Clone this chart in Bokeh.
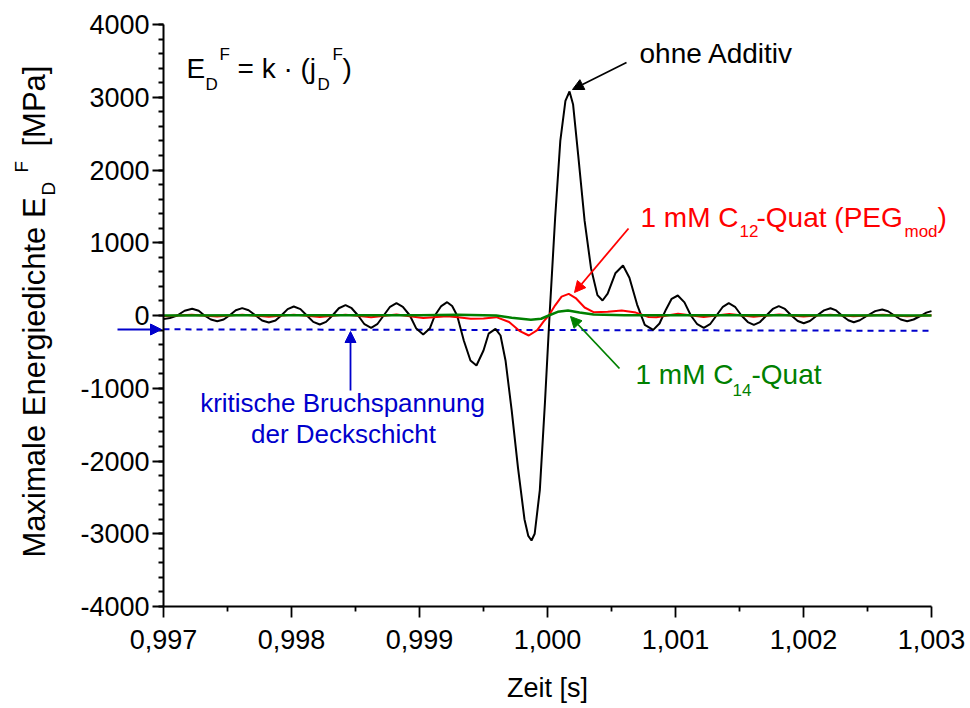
import math
from bokeh.plotting import figure
from bokeh.models import Label, Arrow, NormalHead, Range1d, FixedTicker, CustomJSTickFormatter, LinearAxis
from bokeh.embed import file_html
from bokeh.resources import INLINE

# ---------------- data ----------------
zeit_ohne = [0.997000, 0.997050, 0.997107, 0.997165, 0.997224, 0.997275, 0.997320, 0.997370,
             0.997420, 0.997470, 0.997515, 0.997565, 0.997615, 0.997665, 0.997720, 0.997770,
             0.997823, 0.997875, 0.997920, 0.997970, 0.998018, 0.998070, 0.998120, 0.998170,
             0.998221, 0.998270, 0.998320, 0.998370, 0.998422, 0.998470, 0.998520, 0.998570,
             0.998622, 0.998670, 0.998720, 0.998770, 0.998820, 0.998870, 0.998925, 0.998975,
             0.999029, 0.999080, 0.999120, 0.999170, 0.999216, 0.999255, 0.999294, 0.999346,
             0.999398, 0.999445, 0.999500, 0.999540, 0.999594, 0.999633, 0.999672, 0.999720,
             0.999770, 0.999820, 0.999850, 0.999875, 0.999900, 0.999940, 0.999980, 1.000016,
             1.000060, 1.000100, 1.000140, 1.000172, 1.000200, 1.000240, 1.000290, 1.000340,
             1.000390, 1.000430, 1.000470, 1.000530, 1.000590, 1.000640, 1.000700, 1.000760,
             1.000826, 1.000875, 1.000925, 1.000970, 1.001018, 1.001070, 1.001120, 1.001170,
             1.001221, 1.001270, 1.001320, 1.001370, 1.001416, 1.001465, 1.001515, 1.001565,
             1.001612, 1.001660, 1.001710, 1.001760, 1.001807, 1.001855, 1.001905, 1.001955,
             1.002002, 1.002050, 1.002105, 1.002160, 1.002211, 1.002255, 1.002300, 1.002350,
             1.002393, 1.002440, 1.002500, 1.002560, 1.002615, 1.002660, 1.002710, 1.002760,
             1.002810, 1.002860, 1.002920, 1.002960, 1.003000]
e_ohne = [-50, -35, 0, 65, 92, 65, 0, -55,
          -78, -55, 0, 72, 101, 72, 0, -68,
          -96, -68, 0, 88, 124, 88, 0, -88,
          -124, -88, 0, 100, 142, 100, 0, -120,
          -169, -120, 0, 120, 169, 120, 0, -180,
          -261, -180, 0, 130, 183, 130, 0, -344,
          -618, -687, -481, -250, -183, -275, -618, -1300,
          -2100, -2800, -3030, -3093, -3000, -2400, -1200, 0,
          1350, 2400, 2950, 3079, 2900, 2200, 1300, 650,
          280, 206, 300, 580, 687, 520, 150, -130,
          -197, -110, 80, 230, 275, 180, 0, -120,
          -169, -120, 0, 120, 169, 120, 0, -90,
          -128, -90, 0, 90, 128, 90, 0, -75,
          -106, -75, 0, 70, 100, 70, 0, -65,
          -92, -65, 0, 60, 83, 58, 0, -55,
          -78, -55, 0, 40, 60]

zeit_c12 = [0.997000, 0.997220, 0.997420, 0.997615, 0.997823, 0.998018, 0.998221, 0.998422,
            0.998622, 0.998820, 0.999029, 0.999216, 0.999300, 0.999400, 0.999500, 0.999600,
            0.999700, 0.999780, 0.999854, 0.999920, 0.999970, 1.000010, 1.000060, 1.000110,
            1.000166, 1.000220, 1.000290, 1.000360, 1.000470, 1.000580, 1.000690, 1.000790,
            1.000850, 1.001020, 1.001220, 1.001420, 1.001610, 1.001810, 1.002000, 1.002210,
            1.002390, 1.002620, 1.002810, 1.003000]
e_c12 = [-10, 10, -15, 12, -18, 12, -20, 12,
         -25, 15, -35, -10, -25, -46, -40, -23,
         -90, -210, -275, -200, -80, 0, 140, 260,
         298, 240, 110, 46, 50, 69, 40, -20,
         -25, 25, -20, 20, -18, 15, -14, 12,
         -12, 10, -10, 5]

zeit_c14 = [0.997000, 0.999000, 0.999300, 0.999600, 0.999720, 0.999870, 0.999950, 1.000010,
            1.000080, 1.000160, 1.000250, 1.000360, 1.000600, 1.003000]
e_c14 = [0, 5, 10, 0, -30, -60, -45, 0, 50, 69, 40, 14, 5, 0]

zeit_krit = [0.997, 1.003]
e_krit = [-190, -210]

x_ticks = [0.997, 0.998, 0.999, 1.000, 1.001, 1.002, 1.003]
x_minor = [0.9975, 0.9985, 0.9995, 1.0005, 1.0015, 1.0025]
y_ticks = [-4000, -3000, -2000, -1000, 0, 1000, 2000, 3000, 4000]
y_minor = list(range(-4000, 4001, 200))

FONT = "Liberation Sans"
BLACK = "#000000"
RED = "#FF0000"
GREEN = "#008000"
BLUE = "#0000CC"

W, H = 970, 708
# plot area in page pixels: x 163..931 (0.997..1.003), y 24..606 (4000..-4000)
def tx(px):
    return 0.997 + (px - 163) / 128000.0

def vy(py):
    return (315 - py) * 1000.0 / 72.75

p = figure(width=W, height=H, x_range=Range1d(tx(0), tx(W)), y_range=Range1d(vy(H), vy(0)),
           output_backend="svg", toolbar_location=None, title_location=None,
           x_axis_location=None, y_axis_location=None)
p.min_border = 0
p.min_border_left = 0
p.min_border_right = 0
p.min_border_top = 0
p.min_border_bottom = 0
p.grid.visible = False
p.outline_line_color = None
p.background_fill_color = "white"
p.border_fill_color = "white"

xaxis = LinearAxis(fixed_location=-4000, bounds=(0.997, 1.003),
                   ticker=FixedTicker(ticks=x_ticks, minor_ticks=x_minor),
                   formatter=CustomJSTickFormatter(code="return tick.toFixed(3).replace('.', ',');"))
yaxis = LinearAxis(fixed_location=0.997, bounds=(-4000, 4000),
                   ticker=FixedTicker(ticks=y_ticks, minor_ticks=y_minor),
                   formatter=CustomJSTickFormatter(code="return tick.toFixed(0);"))
for ax in (xaxis, yaxis):
    ax.axis_line_color = BLACK
    ax.axis_line_width = 2
    ax.major_tick_line_color = BLACK
    ax.major_tick_line_width = 1.8
    ax.minor_tick_line_color = BLACK
    ax.minor_tick_line_width = 1.8
    ax.major_tick_in = 0
    ax.major_tick_out = 11
    ax.minor_tick_in = 0
    ax.minor_tick_out = 5
    ax.major_label_text_font = FONT
    ax.major_label_text_font_size = "27px"
    ax.major_label_text_color = BLACK
xaxis.major_label_standoff = 12
yaxis.major_label_standoff = 3
p.add_layout(xaxis, "below")
p.add_layout(yaxis, "left")

# curves
p.line(zeit_krit, e_krit, line_color=BLUE, line_width=2, line_dash="6 5")
p.line(zeit_ohne, e_ohne, line_color=BLACK, line_width=2)
p.line(zeit_c12, e_c12, line_color=RED, line_width=2)
p.line(zeit_c14, e_c14, line_color=GREEN, line_width=2.5)

K = 0.36  # baseline correction (fraction of font size)

def lab(text, px, py, color, size, angle=0.0, align="left"):
    if angle == 0.0:
        ax_, ay_ = px, py - K * size
    else:
        ax_, ay_ = px - K * size, py
    p.add_layout(Label(x=tx(ax_), y=vy(ay_), text=text, text_color=color, text_font=FONT,
                       text_font_size=f"{size}px", angle=angle, text_align=align,
                       text_baseline="alphabetic"))

def arrow(x0, y0, x1, y1, color):
    p.add_layout(Arrow(x_start=tx(x0), y_start=vy(y0), x_end=tx(x1), y_end=vy(y1),
                       line_color=color, line_width=1.8,
                       end=NormalHead(size=11, fill_color=color, line_color=color, line_width=1)))

# x axis title
lab("Zeit [s]", 547, 697, BLACK, 27, align="center")

# formula
lab("E", 186, 78, BLACK, 28)
lab("D", 205, 90, BLACK, 17)
lab("F", 219, 60, BLACK, 17)
lab("= k \u00b7 (j", 237, 78, BLACK, 28)
lab("D", 317, 90, BLACK, 17)
lab("F", 332, 60, BLACK, 17)
lab(")", 342, 78, BLACK, 28)

# ohne Additiv
lab("ohne Additiv", 639, 63, BLACK, 28)
arrow(626, 62, 572, 89, BLACK)

# C12
lab("1 mM C", 640, 227, RED, 28)
lab("12", 739, 237, RED, 17)
lab("-Quat (PEG", 756, 227, RED, 28)
lab("mod", 904, 237, RED, 17)
lab(")", 937, 227, RED, 28)
arrow(628, 228, 574, 292, RED)

# C14
lab("1 mM C", 635, 384, GREEN, 28)
lab("14", 732, 396, GREEN, 17)
lab("-Quat", 751, 384, GREEN, 28)
arrow(619, 368, 570, 316, GREEN)

# kritische Bruchspannung
lab("kritische Bruchspannung", 342, 412, BLUE, 26, align="center")
lab("der Deckschicht", 343, 443, BLUE, 26, align="center")
arrow(350, 390, 350, 331, BLUE)
arrow(117, 329, 161, 329, BLUE)

# y axis title (rotated, composed)
A = math.pi / 2
lab("Maximale Energiedichte E", 45, 557, BLACK, 31, A)
lab("D", 55, 195, BLACK, 19, A)
lab("F", 28, 172, BLACK, 19, A)
lab("[MPa]", 45, 146, BLACK, 31, A)

open("out.html", "w").write(file_html(p, INLINE))
